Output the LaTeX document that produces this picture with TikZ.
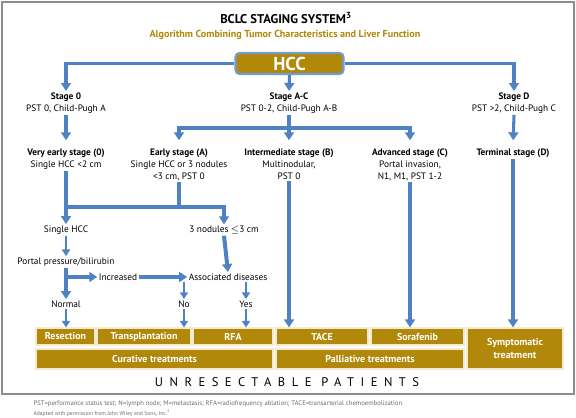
\documentclass[tikz,border=0pt]{standalone}
\usepackage{fontspec}
\setmainfont{PT Sans}
\usetikzlibrary{arrows.meta,positioning}
\definecolor{flowblue}{HTML}{4F82C4}
\definecolor{gold}{HTML}{B1880A}
\definecolor{boxedge}{HTML}{F3EAD0}
\definecolor{framegray}{HTML}{8C8C8C}
\definecolor{notegray}{HTML}{6E6E6E}
\newcommand\pxu{0.75pt}

\begin{document}
\begin{tikzpicture}[
    x=0.75pt, y=-0.75pt,
    every node/.style={inner sep=1pt},
    lbl/.style={font=\fontsize{7}{9}\selectfont, align=center},
    stagehd/.style={lbl, anchor=north},
    treat/.style={draw=boxedge, line width=0.8pt, fill=gold, text=white, font=\fontsize{7.5}{9.5}\selectfont\bfseries, align=center, inner sep=0pt},
    link/.style={draw=flowblue, line width=2.3pt},
    arr/.style={link, -{Triangle[width=7.4pt, length=6pt]}},
    smallarr/.style={draw=flowblue, line width=1.8pt, -{Triangle[width=6pt, length=5pt]}}
  ]
    \useasboundingbox (0,0) rectangle (576,418);
    \fill[white] (0,0) rectangle (576,418);
    \draw[framegray, line width=1.1pt] (2,2) rectangle (574,394);

    \node[font=\fontsize{9.5}{11}\selectfont\bfseries] (title) at (286,18) {BCLC STAGING SYSTEM\textsuperscript{3}};
    \node[font=\fontsize{7.6}{9}\selectfont\bfseries, text=gold] (sub) at (285,35) {Algorithm Combining Tumor Characteristics and Liver Function};

    \node[draw=flowblue!80, line width=1.6pt, rounded corners=3pt, fill=gold, text=white, font=\fontsize{14}{16}\selectfont\bfseries, minimum width=108*\pxu, minimum height=21*\pxu] (hcc) at (289.5,63.5) {HCC};

    \node[stagehd] (s0) at (66,91) {\textbf{Stage 0}\\PST 0, Child-Pugh A};
    \node[stagehd] (sac) at (289,91) {\textbf{Stage A-C}\\PST 0-2, Child-Pugh A-B};
    \node[stagehd] (sd) at (514,91) {\textbf{Stage D}\\PST >2, Child-Pugh C};

    \node[stagehd] (ve) at (66,147) {\textbf{Very early stage (0)}\\Single HCC <2 cm};
    \node[stagehd] (ea) at (179,147) {\textbf{Early stage (A)}\\Single HCC or 3 nodules\\<3 cm, PST 0};
    \node[stagehd] (im) at (289,147) {\textbf{Intermediate stage (B)}\\Multinodular,\\PST 0};
    \node[stagehd] (ad) at (410,147) {\textbf{Advanced stage (C)}\\Portal invasion,\\N1, M1, PST 1-2};
    \node[stagehd] (td) at (513,147) {\textbf{Terminal stage (D)}};

    \node[lbl] (sh) at (66,230) {Single HCC};
    \node[lbl] (n3) at (224,230) {3 nodules $\leq$3 cm};
    \node[lbl] (pp) at (66,262) {Portal pressure/bilirubin};
    \node[lbl] (inc) at (118,277) {Increased};
    \node[lbl] (asd) at (228,277) {Associated diseases};
    \node[lbl] (nm) at (66,304) {Normal};
    \node[lbl] (no) at (184,304) {No};
    \node[lbl] (yes) at (246,304) {Yes};

    \node[treat, minimum width=59*\pxu, minimum height=17*\pxu] (res) at (65.5,336.5) {Resection};
    \node[treat, minimum width=94*\pxu, minimum height=17*\pxu] (tra) at (144,336.5) {Transplantation};
    \node[treat, minimum width=80*\pxu, minimum height=17*\pxu] (rfa) at (233,336.5) {RFA};
    \node[treat, minimum width=92*\pxu, minimum height=17*\pxu] (tace) at (322,336.5) {TACE};
    \node[treat, minimum width=93*\pxu, minimum height=17*\pxu] (sora) at (417.5,336.5) {Sorafenib};
    \node[treat, minimum width=96*\pxu, minimum height=41*\pxu] (sym) at (515,348.5) {Symptomatic\\treatment};
    \node[treat, minimum width=237*\pxu, minimum height=20*\pxu] (cur) at (154.5,359) {Curative treatments};
    \node[treat, minimum width=188*\pxu, minimum height=20*\pxu] (pal) at (370,359) {Palliative treatments};

    \node[font=\fontsize{9.4}{11}\selectfont\addfontfeature{LetterSpace=52}] (unres) at (287,382) {UNRESECTABLE PATIENTS};
    \node[anchor=west, font=\fontsize{5}{6}\selectfont, text=notegray] (fn1) at (32,404) {PST=performance status test; N=lymph node; M=metastasis; RFA=radiofrequency ablation; TACE=transarterial chemoembolization.};
    \node[anchor=west, font=\fontsize{4.2}{5}\selectfont, text=notegray] (fn2) at (32,413) {Adapted with permission from John Wiley and Sons, Inc.\textsuperscript{3}};

    \draw[arr] (hcc.west) -| (s0.north);
    \draw[arr] (hcc.east) -| (sd.north);
    \draw[arr] (hcc.south) -- (sac.north);
    \draw[arr, shorten >=5pt] (s0.south) -- (ve.north);
    \coordinate (acbar) at (289,128);
    \draw[link] (sac.south) -- (acbar);
    \draw[arr, shorten >=5pt] (acbar) -| (ea.north);
    \draw[arr, shorten >=5pt] (acbar) -| (ad.north);
    \draw[arr, shorten >=5pt] (acbar) -- (im.north);
    \draw[arr, shorten >=5pt] (sd.south) -- (td.north);

    \coordinate (jA) at (179,207);
    \coordinate (j0) at (66,207);
    \draw[arr] (ve.south) -- (sh.north);
    \draw[link] (ea.south) -- (jA);
    \draw[link] (jA) -- (j0);
    \draw[arr] (jA) -| (n3.north);
    \draw[smallarr] (sh.south) -- (pp.north);
    \draw[arr] (pp.south) -- (nm.north);
    \coordinate (jP) at (66,277);
    \draw[arr] (jP) -- (inc.west);
    \draw[arr] (inc.east) -- (asd.west);
    \draw[arr, line width=3pt] (n3.south) -- (asd.north);
    \draw[smallarr] (asd.south -| no) -- (no.north);
    \draw[smallarr] (asd.south -| yes) -- (yes.north);
    \draw[smallarr] (nm.south) -- (nm.south |- res.north);
    \draw[smallarr] (no.south) -- (no.south |- tra.north);
    \draw[smallarr] (yes.south) -- (yes.south |- rfa.north);
    \draw[arr] (im.south) -- (im.south |- tace.north);
    \draw[arr] (ad.south) -- (ad.south |- sora.north);
    \draw[arr] (td.south) -- (td.south |- sym.north);
  \end{tikzpicture}
\end{document}
